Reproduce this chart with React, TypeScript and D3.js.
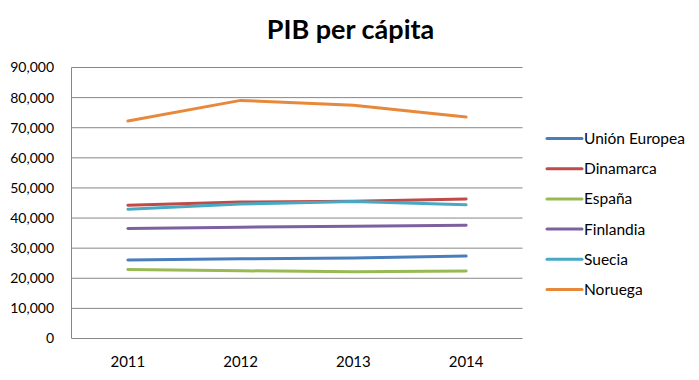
import React from "react";
import * as d3 from "d3";

const years = ["2011", "2012", "2013", "2014"];
const seriesNames = ["Unión Europea", "Dinamarca", "España", "Finlandia", "Suecia", "Noruega"];
const ueValues = [26040, 26470, 26700, 27360];
const dinamarcaValues = [44240, 45330, 45560, 46320];
const espanaValues = [22930, 22500, 22170, 22400];
const finlandiaValues = [36500, 36960, 37290, 37620];
const sueciaValues = [42920, 44670, 45500, 44440];
const noruegaValues = [72230, 79080, 77430, 73560];
const yTicks = [0, 10000, 20000, 30000, 40000, 50000, 60000, 70000, 80000, 90000];
const colors = ["#4A7EBB", "#BE4B48", "#98B954", "#7D60A0", "#46AAC5", "#E8883A"];

const allValues = [ueValues, dinamarcaValues, espanaValues, finlandiaValues, sueciaValues, noruegaValues];

export default function App() {
  const W = 699, H = 380;
  const left = 71.5, right = 522.5, top = 67.5, bottom = 338.5;
  const x = d3.scaleBand<string>().domain(years).range([left, right]);
  const y = d3.scaleLinear().domain([0, 90000]).range([bottom, top]);
  const fmt = d3.format(",");
  const line = d3
    .line<number>()
    .x((_, i) => (x(years[i]) as number) + x.bandwidth() / 2)
    .y((d) => y(d));
  const font = "Lato, 'Open Sans', sans-serif";
  return (
    <svg
      width={W}
      height={H}
      style={{ position: "absolute", left: 0, top: 0, background: "#fff" }}
      fontFamily={font}
    >
      <text x={350.5} y={39} textAnchor="middle" fontSize={27} fontWeight="bold" fill="#000">
        PIB per cápita
      </text>
      {yTicks.map((t) => (
        <g key={t}>
          <line x1={left} x2={right} y1={y(t)} y2={y(t)} stroke="#878787" strokeWidth={1} />
          <text x={54} y={y(t)} dy="0.35em" textAnchor="end" fontSize={14} fill="#000">
            {fmt(t)}
          </text>
        </g>
      ))}
      <line x1={left} x2={left} y1={top} y2={bottom} stroke="#878787" strokeWidth={1} />
      {years.map((yr) => (
        <text
          key={yr}
          x={(x(yr) as number) + x.bandwidth() / 2}
          y={362}
          dy="0.35em"
          textAnchor="middle"
          fontSize={15}
          fill="#000"
        >
          {yr}
        </text>
      ))}
      {allValues.map((vals, i) => (
        <path
          key={seriesNames[i]}
          d={line(vals) as string}
          fill="none"
          stroke={colors[i]}
          strokeWidth={3}
          strokeLinecap="round"
          strokeLinejoin="round"
        />
      ))}
      {seriesNames.map((name, i) => {
        const ly = 138.5 + i * 30.2;
        return (
          <g key={name}>
            <line x1={547} x2={582} y1={ly} y2={ly} stroke={colors[i]} strokeWidth={3} strokeLinecap="round" />
            <text x={584} y={ly} dy="0.35em" fontSize={15.5} fill="#000">
              {name}
            </text>
          </g>
        );
      })}
    </svg>
  );
}
